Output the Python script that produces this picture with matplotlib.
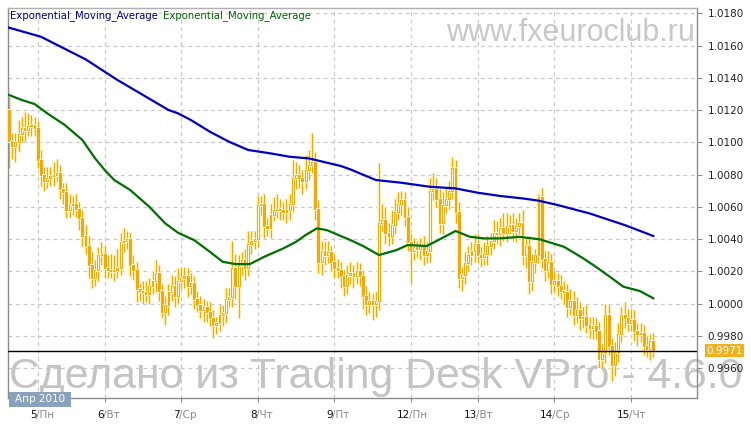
import matplotlib
matplotlib.use('Agg')
import matplotlib.pyplot as plt
import matplotlib.patheffects as pe
from matplotlib.patches import Rectangle

# hourly candles, Apr 2 (tail) .. Apr 15 2010
first_open = 1.0120
closes = [
    # Fri 2
    1.0101, 1.0098, 1.0100, 1.0105, 1.0109, 1.0108, 1.0110, 1.0111, 1.0109,
    # Mon 5
    1.0089, 1.0080, 1.0076, 1.0078, 1.0079, 1.0080, 1.0081, 1.0071, 1.0069, 1.0058, 1.0061,
    1.0062, 1.0059, 1.0053, 1.0042, 1.0036, 1.0024, 1.0016, 1.0021, 1.0030, 1.0031,
    # Tue 6
    1.0022, 1.0021, 1.0020, 1.0021, 1.0022, 1.0038, 1.0039, 1.0040, 1.0024, 1.0021, 1.0009, 1.0008,
    1.0007, 1.0006, 1.0011, 1.0014, 1.0019, 1.0008, 0.9995, 0.9999, 1.0007, 1.0011, 1.0005, 1.0014,
    # Wed 7
    1.0016, 1.0017, 1.0011, 1.0013, 1.0003, 0.9999, 0.9996, 0.9998, 0.9995, 0.9991, 0.9987, 0.9988,
    0.9993, 0.9994, 1.0003, 1.0004, 1.0022, 1.0011, 1.0024, 1.0027, 1.0022, 1.0037, 1.0039, 1.0040,
    # Thu 8
    1.0061, 1.0062, 1.0048, 1.0047, 1.0055, 1.0058, 1.0059, 1.0058, 1.0057, 1.0058, 1.0062, 1.0078,
    1.0080, 1.0078, 1.0076, 1.0083, 1.0086, 1.0088, 1.0059, 1.0026, 1.0033, 1.0030, 1.0032, 1.0026,
    # Fri 9
    1.0022, 1.0021, 1.0017, 1.0011, 1.0018, 1.0019, 1.0017, 1.0020, 1.0017, 1.0005, 1.0000, 1.0002,
    1.0000, 1.0002, 1.0050, 1.0052, 1.0044, 1.0042, 1.0049, 1.0057, 1.0062, 1.0064, 1.0054, 1.0038,
    # Mon 12
    1.0033, 1.0035, 1.0034, 1.0036, 1.0030, 1.0033, 1.0070, 1.0071, 1.0065, 1.0050, 1.0061,
    1.0065, 1.0070, 1.0084, 1.0057, 1.0016, 1.0018, 1.0025, 1.0030, 1.0033, 1.0037,
    # Tue 13
    1.0030, 1.0029, 1.0031, 1.0036, 1.0039, 1.0044, 1.0043, 1.0047, 1.0044, 1.0048, 1.0049, 1.0045,
    1.0048, 1.0050, 1.0030, 1.0036, 1.0014, 1.0026, 1.0030, 1.0066, 1.0028, 1.0021, 1.0026, 1.0012,
    # Wed 14
    1.0014, 1.0011, 1.0008, 1.0007, 0.9998, 1.0002, 0.9993, 0.9996, 0.9991, 0.9992, 0.9987, 0.9985,
    0.9986, 0.9983, 0.9966, 0.9970, 0.9993, 0.9974, 0.9962, 0.9970, 0.9981, 0.9993, 0.9991, 0.9988,
    # Thu 15
    0.9990, 0.9983, 0.9981, 0.9982, 0.9974, 0.9972, 0.9977, 0.9971,
]
# wick lengths in pips above / below the body
hi_pips = [
    8, 5, 6, 9, 7, 10, 8, 6, 5,
    4, 6, 5, 7, 6, 8, 9, 5, 4, 6, 7, 5, 6, 4, 5, 7, 6, 8, 6, 5, 7,
    5, 8, 10, 9, 12, 6, 8, 5, 4, 6, 5, 4, 6, 7, 5, 6, 8, 5, 4, 6, 5, 7, 6, 8,
    7, 6, 5, 6, 4, 5, 6, 5, 4, 6, 5, 4, 6, 5, 7, 6, 17, 9, 6, 5, 7, 8, 6, 5,
    6, 5, 6, 5, 7, 8, 9, 6, 5, 7, 6, 11, 8, 6, 5, 9, 9, 18, 6, 5, 6, 5, 7, 4,
    5, 6, 5, 4, 6, 7, 5, 6, 5, 4, 6, 5, 4, 5, 37, 10, 8, 6, 9, 8, 7, 6, 5, 6,
    5, 6, 4, 5, 6, 5, 8, 10, 7, 6, 8, 7, 6, 7, 5, 6, 5, 7, 6, 5, 6,
    6, 5, 7, 6, 5, 8, 7, 6, 9, 8, 6, 7, 5, 6, 8, 5, 6, 5, 4, 2, 6, 5, 7, 5,
    6, 5, 7, 6, 5, 7, 6, 8, 5, 6, 7, 5, 6, 5, 6, 5, 7, 6, 5, 6, 7, 5, 8, 6,
    7, 6, 5, 6, 5, 6, 4, 5,
]
lo_pips = [
    17, 8, 10, 6, 5, 7, 4, 6, 5,
    5, 7, 6, 4, 5, 6, 4, 6, 7, 5, 4, 6, 5, 7, 6, 5, 8, 6, 5, 7, 6,
    6, 5, 4, 6, 5, 4, 6, 5, 7, 6, 8, 6, 7, 5, 6, 5, 7, 6, 4, 8, 6, 5, 7, 5,
    5, 6, 7, 5, 6, 4, 5, 7, 6, 5, 8, 6, 5, 7, 6, 5, 6, 8, 20, 6, 7, 5, 6, 5,
    5, 6, 7, 5, 6, 4, 5, 6, 5, 7, 6, 5, 7, 6, 8, 5, 6, 5, 7, 7, 8, 6, 5, 6,
    6, 5, 7, 6, 5, 6, 7, 5, 6, 8, 7, 6, 10, 8, 6, 5, 7, 6, 5, 6, 5, 7, 6, 5,
    20, 6, 5, 7, 6, 5, 7, 6, 5, 6, 7, 5, 6, 5, 7, 6, 8, 6, 5, 6, 7,
    5, 6, 5, 7, 6, 5, 6, 7, 5, 6, 5, 6, 7, 5, 6, 8, 8, 6, 7, 5, 6, 7, 5, 6,
    5, 6, 5, 7, 6, 5, 6, 5, 7, 6, 5, 6, 7, 5, 5, 6, 7, 6, 10, 7, 6, 5, 6, 5,
    5, 6, 7, 5, 6, 5, 7, 4,
]

# EMA lines (candle index, value)
ema_slow_x = [0, 10, 24, 34, 50, 53, 57, 63, 69, 75, 82, 88, 94, 104, 107, 115, 123, 132,
              140, 147, 154, 161, 166, 172, 182, 193, 202]
ema_slow_y = [1.01711, 1.01655, 1.01515, 1.01387, 1.01201, 1.0118, 1.01139, 1.01066, 1.01004,
              1.00953, 1.00932, 1.00911, 1.00901, 1.00854, 1.00833, 1.00767, 1.0075, 1.00725,
              1.00715, 1.00688, 1.00668, 1.00653, 1.00639, 1.00612, 1.0056, 1.00488, 1.0042]
ema_fast_x = [0, 4, 8, 12, 17.5, 23, 27, 30, 33, 38, 44, 49, 53, 58, 63, 67, 71, 75.5, 80, 86,
              90, 93, 96.5, 99.6, 104, 107, 111, 116, 121.5, 125, 131, 135, 140, 144.5, 149,
              154, 160, 166.5, 174, 180, 184, 188.4, 192.6, 197.8, 202]
ema_fast_y = [1.01294, 1.01263, 1.01238, 1.0118, 1.01108, 1.01015, 1.00901, 1.00829, 1.00767,
              1.00705, 1.00601, 1.00498, 1.0044, 1.00395, 1.00322, 1.0026, 1.00246, 1.00246,
              1.00291, 1.00343, 1.00384, 1.00426, 1.00467, 1.00457, 1.0042, 1.00395, 1.00358,
              1.00302, 1.00333, 1.00364, 1.00358, 1.00399, 1.00451, 1.00415, 1.00405, 1.00405,
              1.00415, 1.00399, 1.00353, 1.00282, 1.00229, 1.00167, 1.00106, 1.00079, 1.00034]

day_start = [9, 30, 54, 78, 102, 126, 147, 171, 195]
day_nums = ['5', '6', '7', '8', '9', '12', '13', '14', '15']
day_names = ['Пн', 'Вт', 'Ср', 'Чт', 'Пт', 'Пн', 'Вт', 'Ср', 'Чт']
y_ticks = [0.9960, 0.9980, 1.0000, 1.0020, 1.0040, 1.0060, 1.0080, 1.0100, 1.0120,
           1.0140, 1.0160, 1.0180]

W, H = 751, 428
fig = plt.figure(figsize=(W / 100, H / 100), dpi=100)
fig.patch.set_facecolor('white')
ax = fig.add_axes([8 / W, 30 / H, 689 / W, 390 / H])
ax.set_facecolor('none')

# watermarks behind everything
fig.text(695 / W, 1 - 41 / H, 'www.fxeuroclub.ru', family='Liberation Sans', fontsize=22,
         color='#c8c8c8', ha='right', va='baseline', zorder=-5)
fig.text(9 / W, 1 - 388 / H, 'Сделано из Trading Desk VPro - 4.6.0', family='Liberation Sans',
         fontsize=30.8, color='#c4c4c4', ha='left', va='baseline', zorder=-5)

ax.set_xlim(-0.31, 215.7)
ax.set_ylim(0.99416, 1.01833)

ax.grid(True, color='#c8c8c8', linestyle=(0, (3, 3)), linewidth=0.9, zorder=0)
ax.set_axisbelow(True)

orange = '#f4a60a'
glow_col = '#fff7c4'
opens = [first_open] + closes[:-1]
for i, (o, c) in enumerate(zip(opens, closes)):
    top = max(o, c)
    bot = min(o, c)
    hi = top + hi_pips[i] / 10000
    lo = bot - lo_pips[i] / 10000
    ax.vlines(i, lo, hi, color=orange, linewidth=0.9, zorder=2,
              path_effects=[pe.Stroke(linewidth=2.6, foreground=glow_col), pe.Normal()])
    h = max(top - bot, 0.00003)
    fc = orange if c < o else '#fffbe6'
    ax.bar(i, h, bottom=bot, width=0.6, facecolor=fc, edgecolor=orange, linewidth=0.7,
           zorder=3, path_effects=[pe.Stroke(linewidth=2, foreground=glow_col), pe.Normal()])

ax.plot(ema_slow_x, ema_slow_y, color='#0000c8', linewidth=1.6, zorder=4)
ax.plot(ema_fast_x, ema_fast_y, color='#007000', linewidth=1.6, zorder=4)

last = closes[-1]
ax.axhline(last, color='black', linewidth=1, zorder=5)

# axes styling
for s in ['left', 'right', 'top', 'bottom']:
    ax.spines[s].set_color('#8c8c8c')
    ax.spines[s].set_linewidth(1)
ax.spines['top'].set_color('#b0b0b0')

ax.yaxis.tick_right()
ax.set_yticks(y_ticks)
ax.set_yticklabels([f'{v:.4f}' for v in y_ticks])
ax.tick_params(axis='y', direction='out', length=3.5, color='#8c8c8c', labelsize=7.5,
               labelcolor='#222222', pad=4)
ax.set_xticks(day_start)
ax.set_xticklabels([])
ax.tick_params(axis='x', direction='out', length=3, color='#8c8c8c')

for pos, num, name in zip(day_start, day_nums, day_names):
    ax.annotate(num, xy=(pos, 0), xycoords=('data', 'axes fraction'), xytext=(-1, -17),
                textcoords='offset pixels', ha='right', va='center', fontsize=7.5,
                color='#111111')
    ax.annotate('/' + name, xy=(pos, 0), xycoords=('data', 'axes fraction'), xytext=(-2, -17),
                textcoords='offset pixels', ha='left', va='center', fontsize=7.5,
                color='#8a8a8a')

# current price tag
ax.annotate(f'{last:.4f}', xy=(1, last), xycoords=('axes fraction', 'data'), xytext=(9, 0),
            textcoords='offset pixels', ha='left', va='center', fontsize=7.5, color='white',
            bbox=dict(boxstyle='square,pad=0.12', facecolor='#f2b11c', edgecolor='none'),
            annotation_clip=False, zorder=6)

# month tag
fig.add_artist(Rectangle((9 / W, 1 - 407 / H), 62 / W, 15 / H, transform=fig.transFigure,
                         facecolor='#87a2ba', edgecolor='none', zorder=6))
fig.text(40 / W, 1 - 399.5 / H, 'Апр 2010', color='white', fontsize=7.5, ha='center',
         va='center', zorder=7)

# indicator names
fig.text(10 / W, 1 - 16 / H, 'Exponential_Moving_Average', color='#000080', fontsize=7.3,
         va='center')
fig.text(163 / W, 1 - 16 / H, 'Exponential_Moving_Average', color='#006400', fontsize=7.3,
         va='center')

fig.savefig('out.png', dpi=100)
